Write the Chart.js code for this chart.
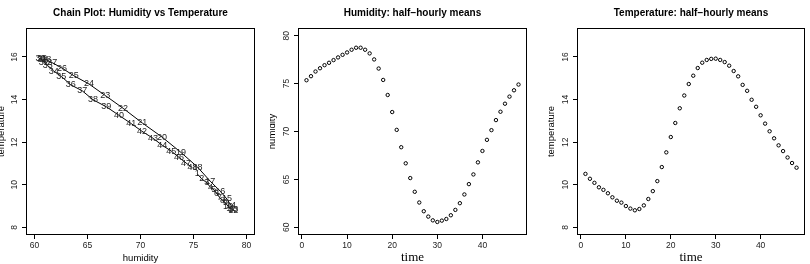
<!DOCTYPE html>
<html>
<head>
<meta charset="utf-8">
<title>Humidity and temperature: half-hourly means</title>
<script src="https://cdn.jsdelivr.net/npm/chart.js@4.4.1/dist/chart.umd.min.js"></script>
<style>
    html, body { margin: 0; padding: 0; background: #fff; }
    .row { display: flex; width: 810px; height: 264px; }
    canvas { display: block; }
</style>
</head>
<body>
<div class="row">
    <canvas id="chainChart" width="270" height="264"></canvas>
    <canvas id="humidityChart" width="270" height="264"></canvas>
    <canvas id="temperatureChart" width="270" height="264"></canvas>
</div>
<script>
const timeSteps = [1, 2, 3, 4, 5, 6, 7, 8, 9, 10, 11, 12, 13, 14, 15, 16, 17, 18, 19, 20, 21, 22, 23, 24,
    25, 26, 27, 28, 29, 30, 31, 32, 33, 34, 35, 36, 37, 38, 39, 40, 41, 42, 43, 44, 45, 46, 47, 48];

const humidity = [75.35, 75.77, 76.26, 76.6, 76.92, 77.17, 77.45, 77.73, 78.0, 78.25, 78.53, 78.74,
    78.74, 78.53, 78.15, 77.52, 76.57, 75.38, 73.81, 72.03, 70.17, 68.36, 66.68, 65.14,
    63.71, 62.59, 61.68, 61.12, 60.73, 60.56, 60.7, 60.87, 61.26, 61.82, 62.52, 63.43,
    64.51, 65.52, 66.78, 67.97, 69.13, 70.14, 71.19, 72.06, 72.9, 73.64, 74.3, 74.9];

const temperature = [10.51, 10.28, 10.09, 9.88, 9.76, 9.6, 9.41, 9.25, 9.16, 9.0, 8.88, 8.8,
    8.86, 9.03, 9.33, 9.7, 10.17, 10.83, 11.52, 12.24, 12.9, 13.59, 14.19, 14.73,
    15.12, 15.48, 15.73, 15.86, 15.91, 15.92, 15.86, 15.76, 15.59, 15.34, 15.09, 14.69,
    14.41, 13.99, 13.66, 13.26, 12.87, 12.51, 12.18, 11.85, 11.58, 11.28, 11.02, 10.8];

const humidityTicks = [60, 65, 70, 75, 80];
const temperatureTicks = [8, 10, 12, 14, 16];
const timeTicks = [0, 10, 20, 30, 40];

const SANS = '"Liberation Sans", Arial, Helvetica, sans-serif';
const SERIF = '"Liberation Serif", "Times New Roman", serif';

Chart.defaults.font.family = SANS;
Chart.defaults.color = '#000';
Chart.defaults.animation = false;

// box round the plot region and a bold title centred over it (like base R graphics)
const framePlugin = {
    id: 'frame',
    afterDraw(chart, args, opts) {
        const { ctx, chartArea: a } = chart;
        ctx.save();
        ctx.strokeStyle = '#000';
        ctx.lineWidth = 1;
        ctx.strokeRect(a.left + 0.5, a.top + 0.5, a.right - a.left - 1, a.bottom - a.top - 1);
        ctx.fillStyle = '#000';
        ctx.font = 'bold 10px ' + SANS;
        ctx.textAlign = 'center';
        ctx.textBaseline = 'middle';
        ctx.fillText(opts.text, (a.left + a.right) / 2, 13);
        ctx.restore();
    }
};

// time index written on each point of the chain
const chainLabels = {
    id: 'chainLabels',
    afterDatasetsDraw(chart) {
        const { ctx } = chart;
        const meta = chart.getDatasetMeta(0);
        ctx.save();
        ctx.fillStyle = '#222';
        ctx.font = '9px ' + SANS;
        ctx.textAlign = 'center';
        ctx.textBaseline = 'middle';
        meta.data.forEach((pt, i) => {
            ctx.fillText(String(timeSteps[i]), pt.x, pt.y);
        });
        ctx.restore();
    }
};

function rAxis(min, max, tickValues, title, vertical, extra) {
    const axis = {
        type: 'linear',
        min: min,
        max: max,
        afterBuildTicks: (scale) => {
            scale.ticks = tickValues.map(v => ({ value: v }));
        },
        grid: { drawOnChartArea: false, tickLength: 4, tickColor: '#000', tickWidth: 1 },
        border: { display: false },
        ticks: { font: { size: 8.5 }, color: '#222', autoSkip: false },
        title: {
            display: true,
            text: title.text,
            font: { size: title.size || 9.5, family: title.family || SANS },
            padding: title.padding
        }
    };
    if (vertical) {
        axis.ticks.minRotation = 90;
        axis.ticks.maxRotation = 90;
        axis.ticks.crossAlign = 'center';
        axis.ticks.padding = 3;
        axis.afterFit = (scale) => { scale.width = extra.left; };
    } else {
        axis.ticks.maxRotation = 0;
        axis.ticks.padding = 2;
        axis.afterFit = (scale) => { scale.height = 29; };
    }
    return axis;
}

function makePanel(id, cfg) {
    const ctx = document.getElementById(id).getContext('2d');
    return new Chart(ctx, {
        type: 'line',
        data: {
            datasets: [{
                data: cfg.xs.map((x, i) => ({ x: x, y: cfg.ys[i] })),
                showLine: cfg.line,
                borderColor: '#000',
                borderWidth: 1,
                pointRadius: cfg.line ? 0 : 1.7,
                pointBorderWidth: 1,
                pointBorderColor: '#000',
                pointBackgroundColor: 'rgba(0,0,0,0)',
                tension: 0
            }]
        },
        options: {
            responsive: false,
            layout: { padding: { top: 28, right: 270 - cfg.right, left: 0, bottom: 0 } },
            plugins: {
                legend: { display: false },
                tooltip: { enabled: false },
                frame: { text: cfg.title }
            },
            scales: {
                x: rAxis(cfg.xRange[0], cfg.xRange[1], cfg.xTicks, cfg.xTitle, false),
                y: rAxis(cfg.yRange[0], cfg.yRange[1], cfg.yTicks, cfg.yTitle, true, { left: cfg.left })
            }
        },
        plugins: cfg.line ? [framePlugin, chainLabels] : [framePlugin]
    });
}

makePanel('chainChart', {
    title: 'Chain Plot: Humidity vs Temperature',
    xs: humidity, ys: temperature, line: true,
    left: 26, right: 255,
    xRange: [59.2, 80.8], xTicks: humidityTicks,
    yRange: [7.64, 17.36], yTicks: temperatureTicks,
    xTitle: { text: 'humidity', padding: { top: 0, bottom: 0 } },
    yTitle: { text: 'temperature', padding: { top: -4, bottom: 0 } }
});

makePanel('humidityChart', {
    title: 'Humidity: half\u2212hourly means',
    xs: timeSteps, ys: humidity, line: false,
    left: 28, right: 257,
    xRange: [-0.88, 49.88], xTicks: timeTicks,
    yRange: [59.2, 80.8], yTicks: humidityTicks,
    xTitle: { text: 'time', size: 13, family: SERIF, padding: { top: 0, bottom: -1 } },
    yTitle: { text: 'humidity', padding: { top: -3.5, bottom: 0 } }
});

makePanel('temperatureChart', {
    title: 'Temperature: half\u2212hourly means',
    xs: timeSteps, ys: temperature, line: false,
    left: 37, right: 265,
    xRange: [-0.88, 49.88], xTicks: timeTicks,
    yRange: [7.64, 17.36], yTicks: temperatureTicks,
    xTitle: { text: 'time', size: 13, family: SERIF, padding: { top: 0, bottom: -1 } },
    yTitle: { text: 'temperature', padding: { top: 6, bottom: 0 } }
});
</script>
</body>
</html>
